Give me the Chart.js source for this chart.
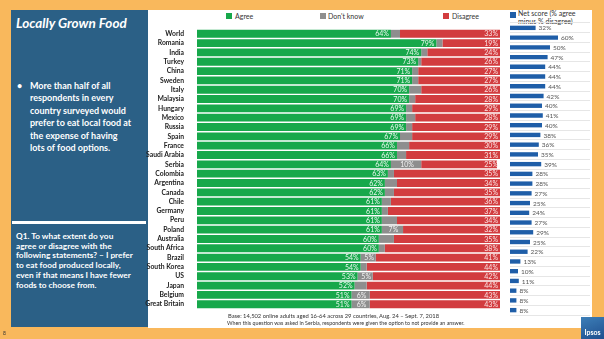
<!DOCTYPE html>
<html>
<head>
<meta charset="utf-8">
<script src="https://cdn.jsdelivr.net/npm/chart.js@4"></script>
<style>
body{margin:0;width:604px;height:339px;background:#F9B85C;position:relative;overflow:hidden;font-family:Lato,"Open Sans",sans-serif}
.abs{position:absolute}
#panel{left:11px;top:10px;width:137px;height:317px;background:#2B6086}
#white{left:148px;top:10px;width:444px;height:318px;background:#fff}
#title{left:16px;top:15px;color:#fff;font-size:13.5px;font-weight:700;font-style:italic;white-space:nowrap}
#bullet{left:17px;top:80px;color:#fff;font-size:9px;font-weight:700;line-height:12.4px;width:130px}
#bullet .dot{position:absolute;left:0;top:0}
#bullet .txt{position:absolute;left:13px;top:0;white-space:nowrap}
#sep{left:12px;top:221px;width:134px;height:3px;background:#fff}
#q1{left:16px;top:232px;color:#fff;font-size:8.3px;font-weight:700;line-height:9.7px;white-space:nowrap}
.leg{font-size:7px;color:#333;white-space:nowrap}
.sq{width:6px;height:6px}
.foot{color:#333;white-space:nowrap}
#logo{left:581px;top:317px;width:23px;height:22px;background:linear-gradient(160deg,#3d7fb8,#1f4f8e);color:#fff;font-size:7px;font-weight:700;text-align:center;line-height:30px}
.box{position:absolute;top:20px;height:298px}
</style>
</head>
<body>
<div id="panel" class="abs"></div>
<div id="white" class="abs"></div>
<div id="title" class="abs">Locally Grown Food</div>
<div id="bullet" class="abs"><span class="dot">•</span><span class="txt">More than half of all<br>respondents in every<br>country surveyed would<br>prefer to eat local food at<br>the expense of having<br>lots of food options.</span></div>
<div id="sep" class="abs"></div>
<div id="q1" class="abs">Q1. To what extent do you<br>agree or disagree with the<br>following statements? – I prefer<br>to eat food produced locally,<br>even if that means I have fewer<br>foods to choose from.</div>

<div class="abs sq" style="left:226px;top:13px;background:#17A84B"></div>
<div class="abs leg" style="left:235px;top:12px">Agree</div>
<div class="abs sq" style="left:320px;top:13px;background:#8E8E8E"></div>
<div class="abs leg" style="left:328px;top:12px">Don't know</div>
<div class="abs sq" style="left:443px;top:13px;background:#D23C3F"></div>
<div class="abs leg" style="left:452px;top:12px">Disagree</div>
<div class="abs sq" style="left:510px;top:12px;background:#1F5EA8"></div>
<div class="abs leg" style="left:518px;top:10px;line-height:7.8px">Net score (% agree<br>minus % disagree)</div>

<div class="box" style="left:140px;width:362px"><canvas id="main"></canvas></div>
<div class="box" style="left:503px;width:89px"><canvas id="net"></canvas></div>

<div class="abs foot" style="left:228px;top:312px;font-size:5.8px">Base: 14,502 online adults aged 16-64 across 29 countries, Aug. 24 – Sept. 7, 2018</div>
<div class="abs foot" style="left:227px;top:319.5px;font-size:5.35px">When this question was asked in Serbia, respondents were given the option to not provide an answer.</div>
<div class="abs" style="left:3px;top:330px;font-size:5px;color:#333">8</div>
<div id="logo" class="abs">Ipsos</div>

<script>
const countries = ['World','Romania','India','Turkey','China','Sweden','Italy','Malaysia','Hungary','Mexico','Russia','Spain','France','Saudi Arabia','Serbia','Colombia','Argentina','Canada','Chile','Germany','Peru','Poland','Australia','South Africa','Brazil','South Korea','US','Japan','Belgium','Great Britain'];
const agree    = [64,79,74,73,71,71,70,70,69,69,69,67,66,66,64,63,62,62,61,61,61,61,60,60,54,54,53,52,51,51];
const dontKnow = [3,2,2,1,2,2,4,2,2,3,2,4,4,3,10,2,4,3,3,2,5,7,5,2,5,2,5,4,6,6];
const disagree = [33,19,24,26,27,27,26,28,29,28,29,29,30,31,25,35,34,35,36,37,34,32,35,38,41,44,42,44,43,43];
const dkLabels = ['','','','','','','','','','','','','','','10%','','','','','','','7%','','','5%','','5%','','6%','6%'];
const netScore = [32,60,50,47,44,44,44,42,40,41,40,38,36,35,39,28,28,27,25,24,27,29,25,22,13,10,11,8,8,8];

const GREEN = '#17A84B', GREY = '#8E8E8E', RED = '#D23C3F', BLUE = '#1F5EA8';

// value labels drawn on top of the stacked segments
const barLabels = {
  id: 'barLabels',
  afterDatasetsDraw(chart) {
    const ctx = chart.ctx;
    ctx.save();
    ctx.font = '7px Lato, sans-serif';
    ctx.textBaseline = 'middle';
    const right = chart.chartArea.right;
    chart.data.datasets.forEach((ds, di) => {
      chart.getDatasetMeta(di).data.forEach((el, i) => {
        if (di === 0) {
          ctx.fillStyle = '#eaf7ee';
          ctx.textAlign = 'right';
          ctx.fillText(agree[i] + '%', el.x - 2, el.y + 0.5);
        } else if (di === 1) {
          if (!dkLabels[i]) return;
          ctx.fillStyle = '#f2f2f2';
          ctx.textAlign = 'center';
          ctx.fillText(dkLabels[i], (el.x + el.base) / 2 + 1, el.y + 0.5);
        } else {
          ctx.fillStyle = '#fbe3e3';
          ctx.textAlign = 'right';
          ctx.fillText(disagree[i] + '%', right - 2, el.y + 0.5);
        }
      });
    });
    ctx.restore();
  }
};

new Chart(document.getElementById('main'), {
  type: 'bar',
  data: {
    labels: countries,
    datasets: [
      { label: 'Agree', data: agree, backgroundColor: GREEN },
      { label: "Don't know", data: dontKnow, backgroundColor: GREY },
      { label: 'Disagree', data: disagree, backgroundColor: RED }
    ]
  },
  options: {
    indexAxis: 'y',
    responsive: true,
    maintainAspectRatio: false,
    animation: false,
    layout: { padding: { top: 3, bottom: 3, right: 2, left: 0 } },
    datasets: { bar: { categoryPercentage: 1, barPercentage: 0.84 } },
    plugins: { legend: { display: false }, tooltip: { enabled: false } },
    scales: {
      x: { stacked: true, min: 0, max: 100, display: false },
      y: {
        stacked: true,
        grid: { display: false },
        border: { display: false },
        afterFit(scale) { scale.width = 57; },
        ticks: {
          autoSkip: false,
          padding: 5,
          color: '#222',
          font: { family: 'Lato', size: 6.8, weight: 'bold' }
        }
      }
    }
  },
  plugins: [barLabels]
});

const netLabels = {
  id: 'netLabels',
  afterDatasetsDraw(chart) {
    const ctx = chart.ctx;
    ctx.save();
    ctx.font = '6.5px Lato, sans-serif';
    ctx.fillStyle = '#555';
    ctx.textBaseline = 'middle';
    ctx.textAlign = 'left';
    chart.getDatasetMeta(0).data.forEach((el, i) => {
      ctx.fillText(netScore[i] + '%', el.x + 3, el.y + 0.5);
    });
    ctx.restore();
  }
};

new Chart(document.getElementById('net'), {
  type: 'bar',
  data: {
    labels: countries,
    datasets: [{ label: 'Net score', data: netScore, backgroundColor: BLUE }]
  },
  options: {
    indexAxis: 'y',
    responsive: true,
    maintainAspectRatio: false,
    animation: false,
    layout: { padding: { top: 3, bottom: 3, right: 2, left: 0 } },
    datasets: { bar: { categoryPercentage: 1, barPercentage: 0.45 } },
    plugins: { legend: { display: false }, tooltip: { enabled: false } },
    scales: {
      x: { min: 0, max: 100, display: false },
      y: {
        grid: { display: true, offset: true, color: '#e6e6e6', drawTicks: false },
        border: { display: false },
        afterFit(scale) { scale.width = 7; },
        ticks: { display: false, font: { size: 6.8 } }
      }
    }
  },
  plugins: [netLabels]
});
</script>
</body>
</html>
